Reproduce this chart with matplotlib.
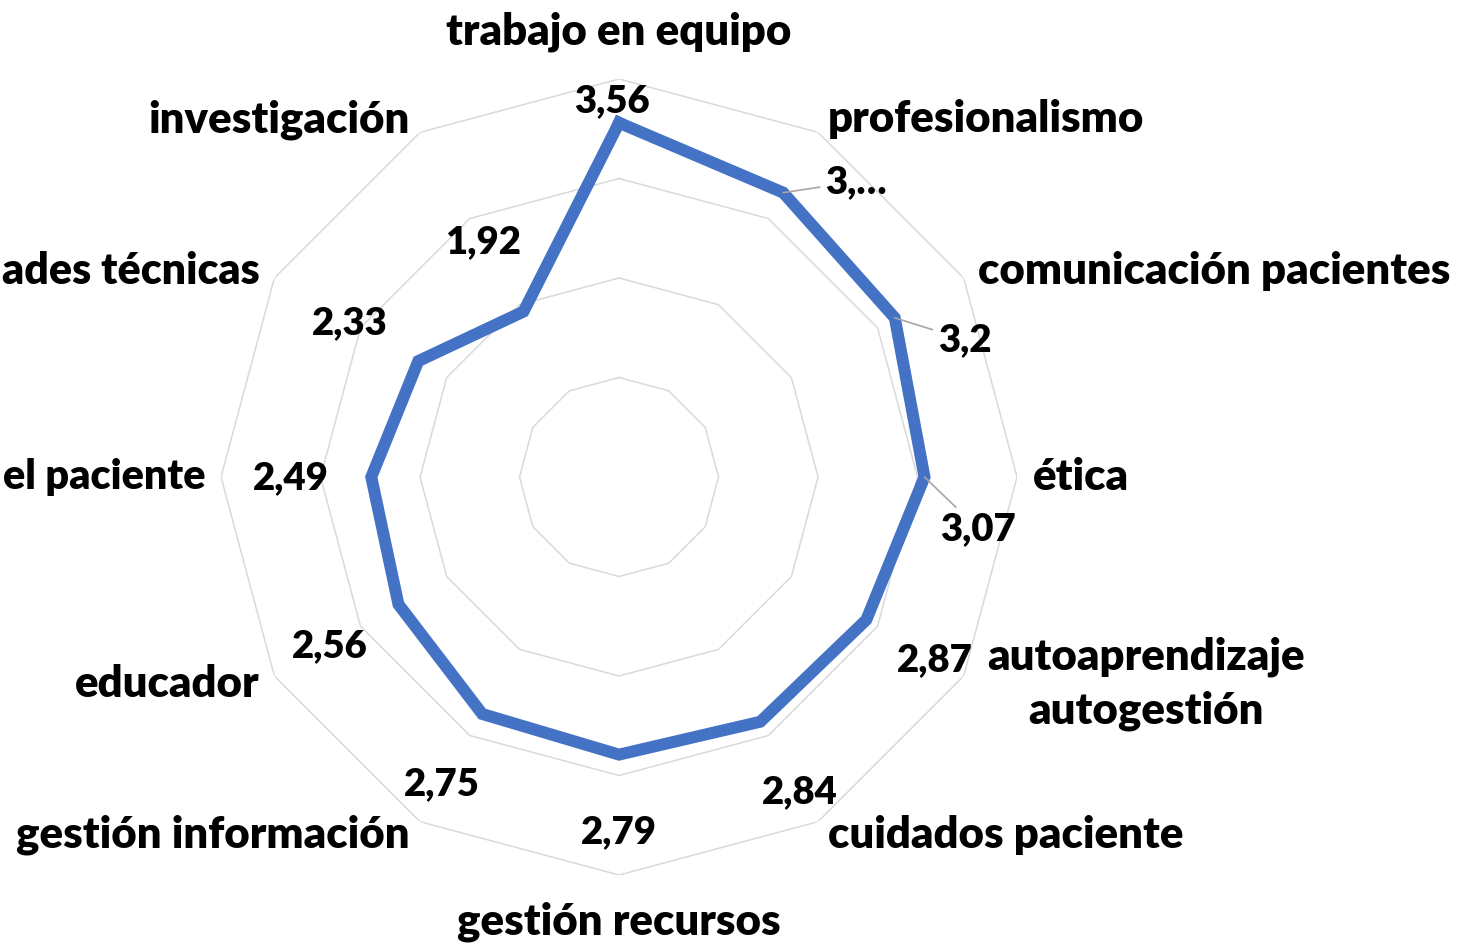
import numpy as np
import matplotlib.pyplot as plt

categories = ["trabajo en equipo", "profesionalismo", "comunicación pacientes", "ética",
              "autoaprendizaje\nautogestión", "cuidados paciente", "gestión recursos",
              "gestión información", "educador", "el paciente",
              "ades técnicas", "investigación"]
values = [3.56, 3.30, 3.20, 3.07, 2.87, 2.84, 2.79, 2.75, 2.56, 2.49, 2.33, 1.92]
value_text = [f"{v:g}".replace(".", ",") for v in values]
value_text[1] = "3,…"  # Excel truncated this label
has_leader = [False, True, True, True] + [False] * 8
ring_levels = [1, 2, 3, 4]

# label offsets (pixels) relative to the data point
value_offsets = [(-7, 22), (73, 11), (70, -22), (54, -52), (68, -40), (39, -70),
                 (0, -78), (-40, -70), (-69, -42), (-80, -1), (-69, 38), (-40, 69)]


def main():
    plt.rcParams['font.family'] = ['Lato', 'DejaVu Sans']
    fig = plt.figure(figsize=(14.6, 9.43), dpi=100)
    ax = fig.add_axes([0.1514, 0.0721, 0.5452, 0.8441], projection='polar')
    ax.set_theta_zero_location('N')
    ax.set_theta_direction(-1)

    n = len(categories)
    theta = np.arange(n) * 2 * np.pi / n
    closed = np.append(theta, theta[0])

    for lvl in ring_levels:
        ax.plot(closed, [lvl] * (n + 1), color='#d9d9d9', lw=1.1, zorder=1)

    ax.plot(closed, values + values[:1], color='#4472C4', lw=8.6,
            solid_joinstyle='miter', zorder=3)

    ax.set_ylim(0, 4)
    ax.grid(False)
    ax.set_xticks([])
    ax.set_yticks([])
    ax.spines['polar'].set_visible(False)

    # category labels around the outer ring
    rmax = ring_levels[-1]
    cat_texts = []
    for t, lab in zip(theta, categories):
        s, c = np.sin(t), np.cos(t)
        if abs(s) < 0.1:
            ha = 'center'
            dx, dy = 0, 47 * np.sign(c)
        else:
            ha = 'left' if s > 0 else 'right'
            dx, dy = (4 + 12 * abs(s)) * np.sign(s), 15 * c
        if "\n" in lab:
            ha = 'center'
            dx = 182
        txt = ax.annotate(lab, xy=(t, rmax), xytext=(dx, dy), textcoords='offset pixels',
                          ha=ha, va='center', fontsize=31.5, fontweight='heavy',
                          annotation_clip=False, linespacing=1.4)
        cat_texts.append(txt)

    # shrink labels that would run past the left edge
    renderer = fig.canvas.get_renderer()
    for txt in cat_texts:
        bb = txt.get_window_extent(renderer)
        if bb.x0 < 2:
            txt.set_fontsize(31.5 * (bb.x1 - 2) / bb.width)

    # value labels
    for t, v, txt, off, lead in zip(theta, values, value_text, value_offsets, has_leader):
        arrow = None
        if lead:
            arrow = dict(arrowstyle='-', color='#a6a6a6', lw=1.2, shrinkA=2, shrinkB=0)
        ax.annotate(txt, xy=(t, v), xytext=off, textcoords='offset pixels',
                    ha='center', va='center', fontsize=27.5, fontweight='heavy',
                    annotation_clip=False, arrowprops=arrow, zorder=5)

    fig.savefig('out.png', dpi=100)


if __name__ == "__main__":
    main()
